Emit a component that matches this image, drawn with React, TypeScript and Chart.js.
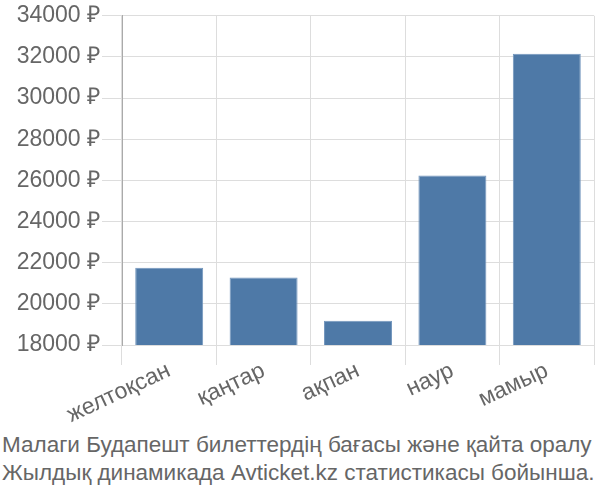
import { useEffect, useRef } from "react";
import { Chart, registerables } from "chart.js";
import type { Scale } from "chart.js";

Chart.register(...registerables);

const months = ["желтоқсан", "қаңтар", "ақпан", "наур", "мамыр"];
const prices = [21750, 21280, 19180, 26240, 32160];
const yMin = 18000;
const yMax = 34000;
const yStep = 2000;
const captionLines = [
    "Малаги Будапешт билеттердің бағасы және қайта оралу",
    "Жылдық динамикада Avticket.kz статистикасы бойынша.",
];

const FONT = "'Liberation Sans', Arial, sans-serif";

export default function App() {
    const canvasRef = useRef<HTMLCanvasElement>(null);

    useEffect(() => {
        if (!canvasRef.current) {
            return;
        }
        const chart = new Chart(canvasRef.current, {
            type: "bar",
            data: {
                labels: months,
                datasets: [{
                    label: "price",
                    data: prices,
                    backgroundColor: "#4e79a7",
                    borderColor: "#7396bd",
                    borderWidth: 1,
                }]
            },
            options: {
                responsive: false,
                animation: false,
                layout: {
                    padding: { top: 14, right: 6, left: 0, bottom: 0 }
                },
                scales: {
                    x: {
                        grid: {
                            color: "#dddddd",
                            tickLength: 20,
                            offset: true,
                        },
                        border: { color: "#dddddd" },
                        ticks: {
                            color: "#666666",
                            font: { family: FONT, size: 23 },
                            minRotation: 25,
                            maxRotation: 25,
                            padding: -8,
                        },
                        afterFit: (scale: Scale) => {
                            scale.height = 85;
                        },
                    },
                    y: {
                        min: yMin,
                        max: yMax,
                        grid: {
                            color: "#dddddd",
                            tickLength: 20,
                        },
                        border: { color: "#aaaaaa" },
                        ticks: {
                            stepSize: yStep,
                            color: "#666666",
                            font: { family: FONT, size: 23 },
                            padding: 2,
                            callback: (v) => `${v} ₽`,
                        },
                        afterFit: (scale: Scale) => {
                            scale.width = 122;
                        },
                    }
                },
                plugins: {
                    legend: { display: false },
                    tooltip: { enabled: false },
                }
            }
        });
        return () => {
            chart.destroy();
        };
    }, []);

    return (
        <div style={{ position: "absolute", left: 0, top: 0, width: 600, height: 500, background: "#fff", overflow: "hidden" }}>
            <canvas ref={canvasRef} width={600} height={430} style={{ display: "block" }} />
            <div style={{
                position: "absolute", left: 2, top: 431, fontFamily: FONT, fontSize: 22.5,
                lineHeight: "28px", color: "#666666", whiteSpace: "nowrap"
            }}>
                {captionLines.map((line) => <div key={line}>{line}</div>)}
            </div>
        </div>
    );
}
